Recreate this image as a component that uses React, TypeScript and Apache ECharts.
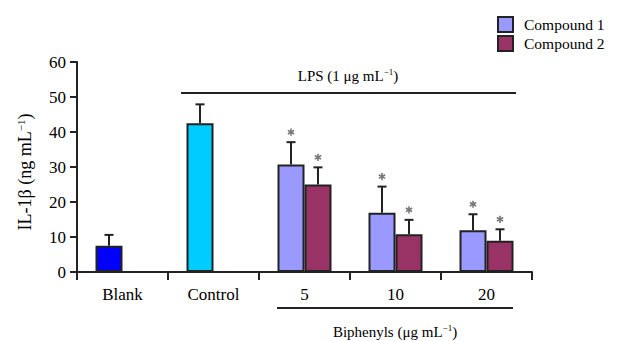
import React, { useEffect, useRef } from "react";
import * as echarts from "echarts";

const categories = ["Blank", "Control", "5", "10", "20"];
const compound1 = [7.5, 42.5, 30.7, 16.9, 11.9];
const compound1Err = [3.1, 5.4, 6.4, 7.5, 4.6];
const compound1Sig = [false, false, true, true, true];
const compound2: (number | null)[] = [null, null, 25.0, 10.8, 8.9];
const compound2Err: (number | null)[] = [null, null, 4.9, 4.1, 3.3];
const compound2Sig = [false, false, true, true, true];
const compound1Colors = ["#0000FF", "#00CCFF", "#9999FF", "#9999FF", "#9999FF"];
const yTicks = { min: 0, max: 60, interval: 10 };

const FONT = "'Liberation Serif', 'Times New Roman', serif";
const BAR_W = 27;

function errorSeries(name: string, values: (number | null)[], errs: (number | null)[], sig: boolean[], offset: number) {
  const data = values.map((v, i) => (v == null ? [i, null, null, 0] : [i, v, v + (errs[i] as number), sig[i] ? 1 : 0]));
  return {
    type: "custom",
    name: name + " err",
    silent: true,
    z: 5,
    data,
    renderItem: (params: any, api: any) => {
      const v = api.value(1);
      if (v == null || isNaN(v)) return null;
      const top = api.value(2);
      const pBase = api.coord([api.value(0), v]);
      const pTop = api.coord([api.value(0), top]);
      const x = pBase[0] + offset;
      const children: any[] = [
        { type: "line", shape: { x1: x, y1: pBase[1], x2: x, y2: pTop[1] }, style: { stroke: "#222", lineWidth: 2 } },
        { type: "line", shape: { x1: x - 4.5, y1: pTop[1], x2: x + 4.5, y2: pTop[1] }, style: { stroke: "#222", lineWidth: 2 } },
      ];
      if (api.value(3) === 1) {
        const cy = pTop[1] - 10;
        const r = 3.6;
        [90, 30, -30].forEach((deg) => {
          const a = (deg * Math.PI) / 180;
          children.push({
            type: "line",
            shape: { x1: x - r * Math.cos(a), y1: cy - r * Math.sin(a), x2: x + r * Math.cos(a), y2: cy + r * Math.sin(a) },
            style: { stroke: "#777", lineWidth: 1.6 },
          });
        });
      }
      return { type: "group", children };
    },
  };
}

export default function App() {
  const ref = useRef<HTMLDivElement>(null);
  useEffect(() => {
    const chart = echarts.init(ref.current!, null, { renderer: "svg" });
    const supRich = (size: number) => ({
      n: { fontFamily: FONT, fontSize: size, color: "#000" },
      s: { fontFamily: FONT, fontSize: Math.round(size * 0.6), color: "#000", padding: [0, 0, Math.round(size * 0.5), 0] },
    });
    chart.setOption({
      animation: false,
      textStyle: { fontFamily: FONT },
      grid: { left: 77, right: 87, top: 62, bottom: 69 },
      legend: {
        orient: "vertical",
        left: 497,
        top: 16,
        padding: 0,
        itemWidth: 15,
        itemHeight: 15,
        itemGap: 2,
        icon: "rect",
        textStyle: { fontFamily: FONT, fontSize: 15.5, color: "#000", padding: [0, 0, 0, 6] },
        data: ["Compound 1", "Compound 2"],
      },
      xAxis: {
        type: "category",
        data: categories,
        axisLine: { lineStyle: { color: "#222", width: 2 } },
        axisTick: { show: true, length: 8, lineStyle: { color: "#222", width: 2 } },
        axisLabel: { fontFamily: FONT, fontSize: 17, color: "#000", margin: 14 },
      },
      yAxis: {
        type: "value",
        min: yTicks.min,
        max: yTicks.max,
        interval: yTicks.interval,
        splitLine: { show: false },
        axisLine: { show: true, lineStyle: { color: "#222", width: 2 } },
        axisTick: { show: true, length: 7, lineStyle: { color: "#222", width: 2 } },
        axisLabel: { fontFamily: FONT, fontSize: 17, color: "#000", margin: 11 },
      },
      series: [
        {
          type: "bar",
          name: "Compound 1",
          barWidth: BAR_W,
          barGap: "0%",
          itemStyle: { color: "#9999FF", borderColor: "#222", borderWidth: 2 },
          data: compound1.map((v, i) => ({ value: v, itemStyle: { color: compound1Colors[i] } })),
        },
        {
          type: "bar",
          name: "Compound 2",
          barWidth: BAR_W,
          barGap: "0%",
          itemStyle: { color: "#993366", borderColor: "#222", borderWidth: 2 },
          data: compound2,
        },
        errorSeries("Compound 1", compound1, compound1Err, compound1Sig, -BAR_W / 2),
        errorSeries("Compound 2", compound2, compound2Err, compound2Sig, BAR_W / 2),
      ],
      graphic: [
        {
          type: "text",
          x: 25,
          y: 172,
          rotation: Math.PI / 2,
          style: { text: "{n|IL-1β (ng mL}{s|−1}{n|)}", rich: supRich(18), align: "center", verticalAlign: "middle" },
        },
        { type: "line", shape: { x1: 181, y1: 93, x2: 516, y2: 93 }, style: { stroke: "#222", lineWidth: 2 } },
        {
          type: "text",
          x: 348,
          y: 76,
          style: { text: "{n|LPS (1 μg mL}{s|−1}{n|)}", rich: supRich(15), align: "center", verticalAlign: "middle" },
        },
        { type: "line", shape: { x1: 277, y1: 308, x2: 513, y2: 308 }, style: { stroke: "#222", lineWidth: 2 } },
        {
          type: "text",
          x: 395,
          y: 332,
          style: { text: "{n|Biphenyls (μg mL}{s|−1}{n|)}", rich: supRich(15), align: "center", verticalAlign: "middle" },
        },
      ],
    });
    return () => chart.dispose();
  }, []);
  return <div ref={ref} style={{ width: 619, height: 341, position: "absolute", left: 0, top: 0 }} />;
}
